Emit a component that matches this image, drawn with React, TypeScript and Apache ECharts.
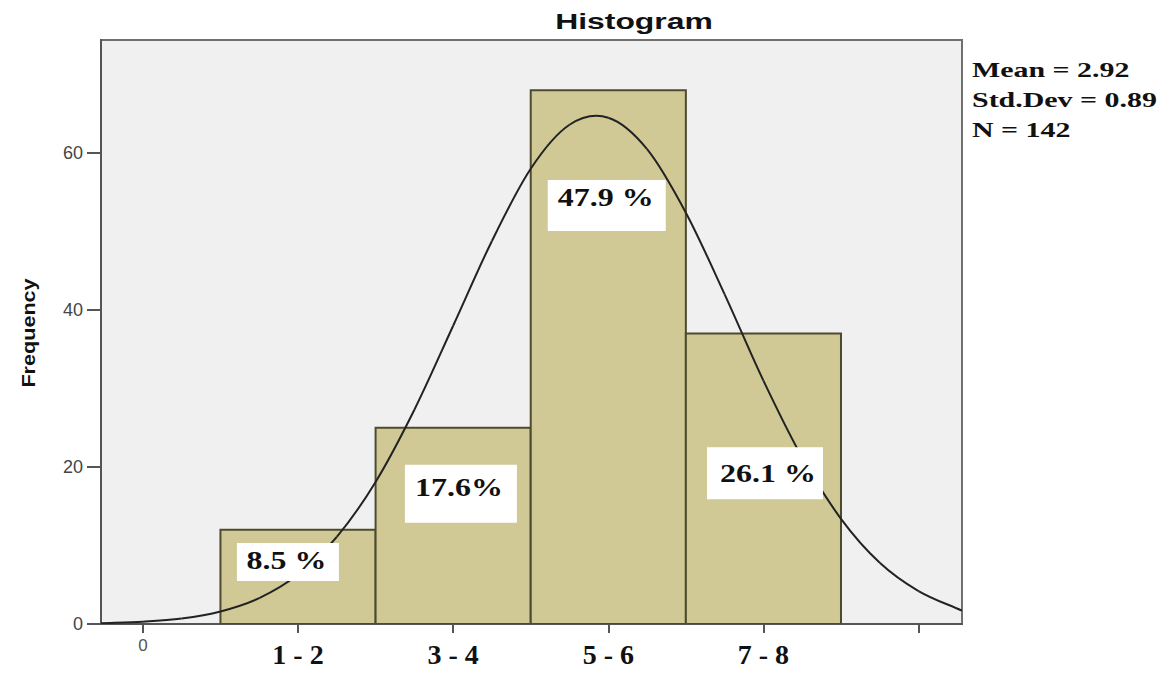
import React, { useEffect, useRef } from "react";
import * as echarts from "echarts";

// ---- data ----
const categories = ["1 - 2", "3 - 4", "5 - 6", "7 - 8"];
const binCenters = [1, 2, 3, 4];
const frequencies = [12, 25, 68, 37];
const percentLabels = ["8.5 %", "17.6%", "47.9 %", "26.1 %"];
const curveX = [-0.27, 0, 0.25, 0.5, 0.75, 1, 1.25, 1.5, 1.75, 2, 2.25, 2.5, 2.75, 3, 3.25, 3.5, 3.75, 4, 4.25, 4.5, 4.75, 5, 5.28];
const curveY = [0.1, 0.3, 0.7, 1.6, 3.3, 6.3, 11.1, 18.1, 27.3, 38.0, 48.8, 58.0, 63.6, 64.5, 60.5, 52.4, 42.0, 31.0, 21.2, 13.4, 7.8, 4.2, 1.7];
const statsLines = ["Mean = 2.92", "Std.Dev = 0.89", "N = 142"];
const yTickValues = [0, 20, 40, 60];
const xTickValues = [0, 1, 2, 3, 4, 5];
const xLabelValues = [0, 1, 2, 3, 4];

// ---- layout of the percentage boxes (anchor in data units, size/offset in px) ----
const labelLayout = [
  { ax: 0.935, ay: 7.9, w: 102, h: 38, dx: -1.5, dy: -2 },
  { ax: 2.05, ay: 16.6, w: 112, h: 58, dx: -2, dy: -6 },
  { ax: 2.99, ay: 53.3, w: 118, h: 51, dx: -1, dy: -8.5 },
  { ax: 4.01, ay: 19.2, w: 116, h: 52, dx: 3, dy: 0 },
];

function slopeAt(i: number): number {
  const n = curveX.length;
  const a = Math.max(0, i - 1);
  const b = Math.min(n - 1, i + 1);
  return (curveY[b] - curveY[a]) / (curveX[b] - curveX[a]);
}

export default function App() {
  const ref = useRef<HTMLDivElement>(null);
  useEffect(() => {
    if (!ref.current) return;
    const chart = echarts.init(ref.current, null, { renderer: "svg" });
    const barData = binCenters.map((c, i) => [c, frequencies[i]]);
    const segData = curveX.slice(0, -1).map((x, i) => [x, curveY[i], i]);
    const labelData = labelLayout.map((l, i) => [l.ax, l.ay, i]);

    chart.setOption({
      animation: false,
      backgroundColor: "#ffffff",
      grid: {
        left: 101,
        right: 211,
        top: 40,
        bottom: 49,
        show: true,
        backgroundColor: "#f0f0f0",
        borderColor: "#707070",
        borderWidth: 2,
      },
      xAxis: {
        type: "value",
        min: -0.27,
        max: 5.28,
        splitLine: { show: false },
        axisLine: { show: true, onZero: false, lineStyle: { color: "#555555", width: 2 } },
        axisTick: {
          show: true,
          customValues: xTickValues,
          length: 9,
          lineStyle: { color: "#555555", width: 2 },
        },
        axisLabel: {
          customValues: xLabelValues,
          margin: 13,
          formatter: (v: number) => {
            const k = Math.round(v);
            if (k === 0) return "{z|0}";
            return "{c|" + categories[k - 1] + "}";
          },
          rich: {
            z: {
              fontSize: 17,
              lineHeight: 17,
              color: "#555555",
              fontFamily: "Liberation Sans",
            },
            c: {
              fontSize: 28,
              lineHeight: 28,
              fontWeight: "bold",
              color: "#111111",
              fontFamily: "Liberation Serif",
              padding: [6, 0, 0, 0],
            },
          },
        },
      },
      yAxis: {
        type: "value",
        min: 0,
        max: 74.4,
        splitLine: { show: false },
        axisLine: { show: true, onZero: false, lineStyle: { color: "#555555", width: 2 } },
        axisTick: {
          show: true,
          customValues: yTickValues,
          length: 14,
          lineStyle: { color: "#555555", width: 2 },
        },
        axisLabel: {
          customValues: yTickValues,
          margin: 18,
          fontSize: 18,
          color: "#444444",
          fontFamily: "Liberation Sans",
        },
      },
      graphic: [
        {
          type: "text",
          x: 634,
          y: 21,
          scaleX: 1.45,
          style: {
            text: "Histogram",
            font: "bold 22px 'Liberation Sans'",
            fill: "#111111",
            align: "center",
            verticalAlign: "middle",
          },
        },
        {
          type: "text",
          x: 29,
          y: 333,
          rotation: Math.PI / 2,
          scaleX: 1.2,
          style: {
            text: "Frequency",
            font: "bold 18px 'Liberation Sans'",
            fill: "#111111",
            align: "center",
            verticalAlign: "middle",
          },
        },
        ...statsLines.map((t, i) => ({
          type: "text",
          x: 972,
          y: 70 + i * 30,
          scaleX: 1.36,
          style: {
            text: t,
            font: "bold 22px 'Liberation Serif'",
            fill: "#111111",
            align: "left",
            verticalAlign: "middle",
          },
        })),
      ],
      series: [
        {
          type: "custom",
          z: 2,
          data: barData,
          encode: { x: 0, y: 1 },
          clip: true,
          renderItem: (params: any, api: any) => {
            const x = api.value(0);
            const y = api.value(1);
            const p0 = api.coord([x - 0.5, y]);
            const p1 = api.coord([x + 0.5, 0]);
            return {
              type: "rect",
              shape: { x: p0[0], y: p0[1], width: p1[0] - p0[0], height: p1[1] - p0[1] },
              style: { fill: "#d0c996", stroke: "#4d4b2e", lineWidth: 2 },
            };
          },
        },
        {
          // normal curve: one smooth (Hermite) segment per pair of read points
          type: "custom",
          z: 3,
          data: segData,
          encode: { x: 0, y: 1 },
          clip: true,
          renderItem: (params: any, api: any) => {
            const i = Math.round(api.value(2));
            const x0 = curveX[i];
            const y0 = curveY[i];
            const x1 = curveX[i + 1];
            const y1 = curveY[i + 1];
            const h = x1 - x0;
            const s0 = slopeAt(i);
            const s1 = slopeAt(i + 1);
            const a = api.coord([x0, y0]);
            const c1 = api.coord([x0 + h / 3, y0 + (s0 * h) / 3]);
            const c2 = api.coord([x1 - h / 3, y1 - (s1 * h) / 3]);
            const b = api.coord([x1, y1]);
            return {
              type: "bezierCurve",
              shape: {
                x1: a[0],
                y1: a[1],
                cpx1: c1[0],
                cpy1: c1[1],
                cpx2: c2[0],
                cpy2: c2[1],
                x2: b[0],
                y2: b[1],
              },
              style: { stroke: "#222222", lineWidth: 2, fill: "none" },
            };
          },
        },
        {
          type: "custom",
          z: 4,
          data: labelData,
          encode: { x: 0, y: 1 },
          renderItem: (params: any, api: any) => {
            const i = Math.round(api.value(2));
            const l = labelLayout[i];
            const p = api.coord([api.value(0), api.value(1)]);
            return {
              type: "group",
              children: [
                {
                  type: "rect",
                  shape: { x: p[0] - l.w / 2, y: p[1] - l.h / 2, width: l.w, height: l.h },
                  style: { fill: "#ffffff" },
                },
                {
                  type: "text",
                  x: p[0] + l.dx,
                  y: p[1] + l.dy,
                  scaleX: 1.28,
                  style: {
                    text: percentLabels[i],
                    font: "bold 25px 'Liberation Serif'",
                    fill: "#111111",
                    align: "center",
                    verticalAlign: "middle",
                  },
                },
              ],
            };
          },
        },
      ],
    });
    return () => chart.dispose();
  }, []);
  return (
    <div
      ref={ref}
      style={{ position: "absolute", left: 0, top: 0, width: 1173, height: 673 }}
    />
  );
}
